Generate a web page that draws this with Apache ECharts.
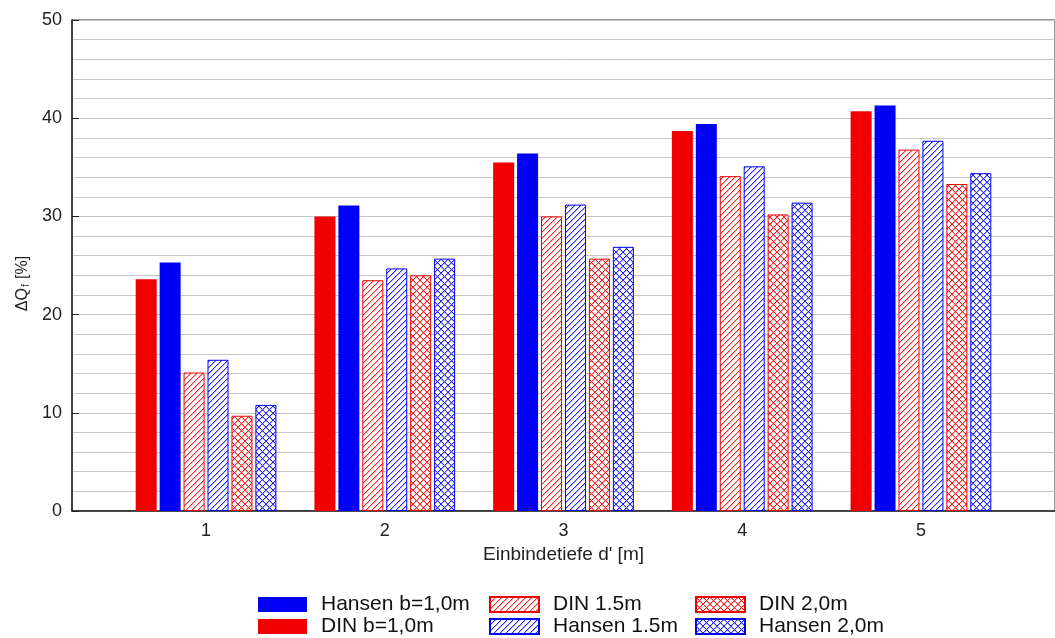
<!DOCTYPE html>
<html>
<head>
<meta charset="utf-8">
<style>
  html, body { margin: 0; padding: 0; background: #fff; }
  #chart { width: 1055px; height: 638px; }
</style>
<script src="https://cdn.jsdelivr.net/npm/echarts@6/dist/echarts.min.js"></script>
</head>
<body>
<div id="chart"></div>
<script>
// Embedment depth d' [m] groups
const depths = [1, 2, 3, 4, 5];

// ΔQf [%] per series
const dinB10    = [23.6, 30.0, 35.5, 38.7, 40.7];
const hansenB10 = [25.3, 31.1, 36.4, 39.4, 41.3];
const din15     = [14.1, 23.5, 30.0, 34.1, 36.8];
const hansen15  = [15.4, 24.7, 31.2, 35.1, 37.7];
const din20     = [9.7, 24.0, 25.7, 30.2, 33.3];
const hansen20  = [10.8, 25.7, 26.9, 31.4, 34.4];

const RED = '#f00000';
const BLUE = '#0000f5';
const FONT = 'Liberation Sans, Arial, sans-serif';

// Pixel hatch tile: "/" diagonals, or "/" plus "\" for cross-hatching.
// Each line gets a softer neighbour pixel so it reads as a slightly blurred stroke.
function hatch(rgb, cross) {
  const s = cross ? 7 : 6;
  const c = document.createElement('canvas');
  c.width = s; c.height = s;
  const g = c.getContext('2d');
  g.fillStyle = '#ffffff';
  g.fillRect(0, 0, s, s);
  const soft = 'rgba(' + rgb + ',0.35)';
  const hard = 'rgb(' + rgb + ')';
  for (let i = 0; i < s; i++) {
    g.fillStyle = soft;
    g.fillRect(i, (s - i) % s, 1, 1);
    if (cross) g.fillRect(i, (i + 1) % s, 1, 1);
  }
  for (let i = 0; i < s; i++) {
    g.fillStyle = hard;
    g.fillRect(i, s - 1 - i, 1, 1);
    if (cross) g.fillRect(i, i, 1, 1);
  }
  return { image: c, repeat: 'repeat' };
}

function pairs(values) {
  return depths.map((d, i) => [d, values[i]]);
}

function barSeries(name, values, color, fill) {
  return {
    name: name,
    type: 'bar',
    data: pairs(values),
    barWidth: 21,
    barGap: '14%',
    itemStyle: {
      color: fill || color,
      borderColor: color,
      borderWidth: fill ? 1 : 0
    }
  };
}

const chart = echarts.init(document.getElementById('chart'), null, { renderer: 'canvas' });

function legendItem(name, left, top) {
  return {
    data: [name],
    left: left,
    top: top,
    icon: 'rect',
    itemWidth: 49,
    itemHeight: 15,
    itemTextGap: 15,
    padding: 0,
    selectedMode: false,
    textStyle: { fontFamily: FONT, fontSize: 21, color: '#111', padding: [0, 0, 0, 9] }
  };
}

chart.setOption({
  animation: false,
  backgroundColor: '#fff',
  textStyle: { fontFamily: FONT },
  grid: {
    left: 72, top: 20, bottom: 127, right: -8,
    show: true, borderColor: '#333', borderWidth: 1, backgroundColor: 'transparent'
  },
  legend: [
    legendItem('Hansen b=1,0m', 258, 594),
    legendItem('DIN b=1,0m', 258, 616),
    legendItem('DIN 1.5m', 489, 594),
    legendItem('Hansen 1.5m', 489, 616),
    legendItem('DIN 2,0m', 695, 594),
    legendItem('Hansen 2,0m', 695, 616)
  ],
  xAxis: {
    type: 'value',
    min: 0.25,
    max: 5.75,
    name: "Einbindetiefe d' [m]",
    nameLocation: 'middle',
    nameGap: 33,
    nameTextStyle: { fontFamily: FONT, fontSize: 19, color: '#222' },
    axisLine: { show: true, lineStyle: { color: '#222', width: 1.5 } },
    axisTick: { show: false },
    splitLine: { show: false },
    axisLabel: {
      customValues: depths,
      formatter: v => String(v),
      margin: 11,
      fontFamily: FONT, fontSize: 18, color: '#222'
    }
  },
  yAxis: {
    type: 'value',
    min: 0,
    max: 50,
    interval: 10,
    name: '{a|ΔQ}{s|f}{a| [%]}',
    nameLocation: 'middle',
    nameGap: 40,
    nameRotate: 90,
    nameTextStyle: {
      padding: [0, 36, 0, 0],
      rich: {
        a: { fontFamily: FONT, fontSize: 16, color: '#222' },
        s: { fontFamily: FONT, fontSize: 10, color: '#222', verticalAlign: 'bottom', padding: [6, 1, 0, 1] }
      }
    },
    axisLine: { show: true, lineStyle: { color: '#222', width: 1.5 } },
    axisTick: { show: true, inside: true, length: 7, lineStyle: { color: '#222' } },
    axisLabel: {
      margin: 10,
      fontFamily: FONT, fontSize: 18, color: '#222'
    },
    splitLine: { show: true, lineStyle: { color: '#c4c4c4', width: 1 } },
    minorTick: { show: false, splitNumber: 5 },
    minorSplitLine: { show: true, lineStyle: { color: '#c8c8c8', width: 1 } }
  },
  series: [
    barSeries('DIN b=1,0m', dinB10, RED),
    barSeries('Hansen b=1,0m', hansenB10, BLUE),
    barSeries('DIN 1.5m', din15, RED, hatch('235,40,40', false)),
    barSeries('Hansen 1.5m', hansen15, BLUE, hatch('40,40,235', false)),
    barSeries('DIN 2,0m', din20, RED, hatch('235,40,40', true)),
    barSeries('Hansen 2,0m', hansen20, BLUE, hatch('40,40,235', true))
  ]
});
</script>
</body>
</html>
